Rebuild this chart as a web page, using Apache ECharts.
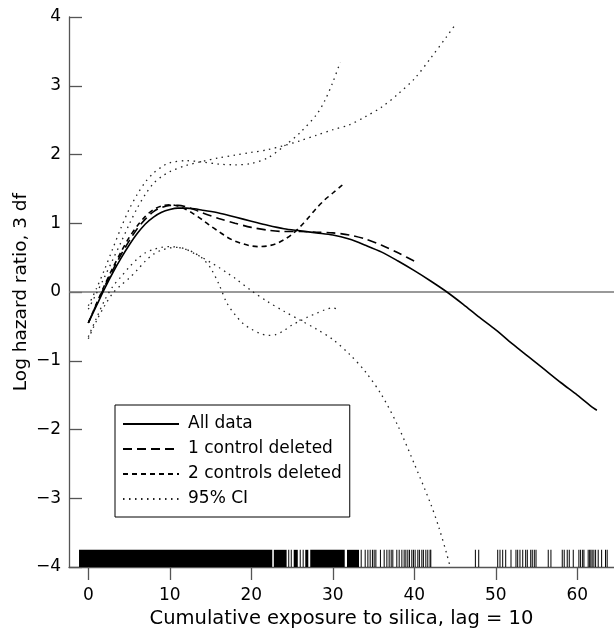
<!DOCTYPE html>
<html>
<head>
<meta charset="utf-8">
<script src="https://cdn.jsdelivr.net/npm/echarts@6/dist/echarts.min.js"></script>
<style>html,body{margin:0;padding:0;background:#fff}#c{width:614px;height:637px}</style>
</head>
<body>
<div id="c"></div>
<script>
// ---- data ----
const xTicks = [0, 10, 20, 30, 40, 50, 60];
const yTicks = [-4, -3, -2, -1, 0, 1, 2, 3, 4];

const allData = [[0,-0.45],[1,-0.2],[2,0.05],[3,0.28],[4,0.49],[5,0.68],[6,0.85],[7,0.99],[8,1.09],[9,1.16],[10,1.2],[11,1.22],[12,1.22],[13,1.21],[14,1.19],[16,1.15],[18,1.09],[20,1.03],[22,0.97],[24,0.92],[26,0.89],[28,0.86],[30,0.83],[32,0.77],[34,0.68],[36,0.58],[38,0.45],[40,0.31],[42,0.16],[44,0.0],[46,-0.18],[48,-0.37],[50,-0.55],[52,-0.75],[54,-0.94],[56,-1.13],[58,-1.32],[60,-1.5],[62,-1.69],[62.4,-1.72]];

const oneControlDeleted = [[0,-0.45],[1,-0.18],[2,0.08],[3,0.32],[4,0.54],[5,0.74],[6,0.92],[7,1.06],[8,1.17],[9,1.23],[10,1.26],[11,1.26],[12,1.24],[13,1.2],[14,1.15],[16,1.07],[18,1.0],[20,0.94],[22,0.9],[24,0.88],[26,0.88],[28,0.87],[30,0.86],[32,0.83],[34,0.77],[36,0.68],[38,0.57],[40,0.45],[40.4,0.43]];

const twoControlsDeleted = [[0,-0.45],[1,-0.17],[2,0.1],[3,0.35],[4,0.58],[5,0.79],[6,0.96],[7,1.1],[8,1.2],[9,1.25],[10,1.27],[11,1.25],[12,1.2],[13,1.13],[14,1.05],[15,0.96],[16,0.88],[17,0.8],[18,0.74],[19,0.7],[20,0.67],[21,0.66],[22,0.67],[23,0.7],[24,0.76],[25,0.84],[26,0.95],[27,1.08],[28,1.22],[29,1.34],[30,1.44],[31,1.54],[31.5,1.59]];

const ciAllUpper = [[0,-0.25],[1,-0.02],[2,0.22],[3,0.47],[4,0.72],[5,0.98],[6,1.22],[7,1.42],[8,1.58],[9,1.68],[10,1.75],[12,1.84],[14,1.9],[16,1.95],[18,1.99],[20,2.03],[22,2.07],[24,2.13],[26,2.2],[28,2.28],[30,2.36],[32,2.43],[34,2.55],[36,2.69],[38,2.88],[40,3.1],[42,3.4],[44,3.72],[45.1,3.9]];

const ciAllLower = [[0,-0.68],[1,-0.42],[2,-0.2],[3,-0.02],[4,0.1],[5,0.2],[6,0.32],[7,0.45],[8,0.55],[9,0.61],[10,0.64],[11,0.65],[12,0.62],[13,0.56],[14,0.5],[15,0.43],[16,0.36],[17,0.28],[18,0.2],[20,0.02],[22,-0.14],[24,-0.28],[26,-0.41],[28,-0.54],[30,-0.69],[32,-0.9],[34,-1.16],[36,-1.5],[38,-1.95],[40,-2.5],[42,-3.08],[43,-3.42],[44,-3.82],[44.4,-4.0]];

const ciTwoUpper = [[0,-0.2],[1,0.05],[2,0.33],[3,0.63],[4,0.93],[5,1.2],[6,1.42],[7,1.6],[8,1.73],[9,1.82],[10,1.88],[12,1.91],[14,1.89],[16,1.86],[18,1.85],[20,1.87],[22,1.95],[24,2.12],[26,2.32],[28,2.58],[29,2.78],[30,3.05],[30.9,3.34]];

const ciTwoLower = [[0,-0.65],[1,-0.38],[2,-0.12],[3,0.08],[4,0.22],[5,0.36],[6,0.48],[7,0.57],[8,0.62],[9,0.65],[10,0.66],[11,0.65],[12,0.62],[13,0.57],[14,0.49],[15,0.35],[16,0.12],[17,-0.16],[18,-0.33],[19,-0.46],[20,-0.54],[21,-0.6],[22,-0.63],[23,-0.62],[24,-0.56],[25,-0.48],[26,-0.42],[27,-0.36],[28,-0.31],[29,-0.26],[30,-0.23],[30.6,-0.25]];

// rug: dense black stretches [from, to] and single exposure values
const rugBlocks = [[-1.14,22.57],[22.76,24.33],[25.2,25.7],[26.62,26.99],[27.23,31.46],[31.74,33.21]];
const rugTicks = [24.53,24.84,25.94,26.3,33.42,33.91,34.24,34.52,34.8,35.01,35.22,35.78,36.24,36.57,36.85,37.1,37.3,37.79,38.08,38.41,38.69,38.9,39.14,39.34,39.63,39.83,40.04,40.37,40.56,40.86,41.05,41.35,41.59,41.87,41.96,47.43,47.84,50.17,50.45,50.78,51.15,51.8,52.41,52.62,52.9,53.24,53.6,53.8,54.22,54.41,54.66,54.87,56.37,56.7,58.09,58.33,58.7,58.95,59.44,60.13,60.34,60.59,60.75,61.27,61.45,61.6,61.76,61.97,62.18,62.5,62.92,63.4,63.6];

const legendNames = ['All data', '1 control deleted', '2 controls deleted', '95% CI'];

// ---- chart ----
const FONT = 'DejaVu Sans';
const chart = echarts.init(document.getElementById('c'), null, {renderer: 'canvas'});
const axisGrey = '#555';

function lineSeries(name, data, lineStyle, extra) {
  return Object.assign({
    type: 'line', name: name, data: data, symbol: 'none', showSymbol: false,
    smooth: 0.3, lineStyle: lineStyle, itemStyle: {color: lineStyle.color},
    animation: false, silent: true, z: 3
  }, extra || {});
}
const dotted = {color: '#222', width: 1.3, type: [1.5, 4.5]};

const rugData = rugBlocks.concat(rugTicks.map(v => [v, v]));

chart.setOption({
  animation: false,
  grid: {left: 69, right: 0, top: 17, bottom: 70, containLabel: false, outerBoundsMode: 'none'},
  legend: {
    orient: 'vertical', left: 115, top: 405, data: legendNames,
    itemWidth: 56, itemHeight: 14, itemGap: 5,
    padding: [9, 8, 8, 7], borderColor: '#000', borderWidth: 1, backgroundColor: '#fff',
    itemStyle: {color: 'rgba(0,0,0,0)', borderWidth: 0, opacity: 0},
    textStyle: {fontFamily: FONT, fontSize: 17, color: '#000', lineHeight: 20, padding: [0, 0, 0, 4]},
    selectedMode: false
  },
  xAxis: {
    type: 'value', min: -2.37, max: 64.5,
    axisLine: {show: true, onZero: false, lineStyle: {color: axisGrey, width: 1.3}},
    axisTick: {show: true, inside: false, length: 13, customValues: xTicks, lineStyle: {color: axisGrey, width: 1.3}},
    axisLabel: {customValues: xTicks, margin: 20, fontFamily: FONT, fontSize: 17, color: '#000'},
    splitLine: {show: false},
    name: 'Cumulative exposure to silica, lag = 10', nameLocation: 'middle', nameGap: 42,
    nameMoveOverlap: false,
    nameTextStyle: {fontFamily: FONT, fontSize: 19.5, color: '#000'}
  },
  yAxis: {
    type: 'value', min: -4, max: 4, interval: 1,
    axisLine: {show: true, onZero: false, lineStyle: {color: axisGrey, width: 1.3}},
    axisTick: {show: true, inside: true, length: 13, lineStyle: {color: axisGrey, width: 1.3}},
    axisLabel: {margin: 8, fontFamily: FONT, fontSize: 17, color: '#000',
      formatter: v => v < 0 ? '\u2212' + (-v) : String(v)},
    splitLine: {show: false},
    name: 'Log hazard ratio, 3 df', nameLocation: 'middle', nameGap: 38, nameRotate: 90,
    nameMoveOverlap: false,
    nameTextStyle: {fontFamily: FONT, fontSize: 18.5, color: '#000'}
  },
  series: [
    lineSeries('All data', allData, {color: '#000', width: 1.6, type: 'solid'}, {
      markLine: {silent: true, symbol: 'none', animation: false, label: {show: false},
        lineStyle: {color: '#777', width: 1.6, type: 'solid'}, data: [{yAxis: 0}], z: 1}
    }),
    lineSeries('1 control deleted', oneControlDeleted, {color: '#000', width: 1.6, type: [9, 5]}),
    lineSeries('2 controls deleted', twoControlsDeleted, {color: '#000', width: 1.6, type: [5, 4]}),
    lineSeries('95% CI', ciAllUpper, dotted),
    lineSeries('95% CI', ciAllLower, dotted),
    lineSeries('95% CI', ciTwoUpper, dotted),
    lineSeries('95% CI', ciTwoLower, dotted),
    {
      type: 'custom', name: 'rug', data: rugData, silent: true, animation: false, z: 2,
      encode: {x: [0, 1]},
      renderItem: function (params, api) {
        const p0 = api.coord([api.value(0), -4]);
        const p1 = api.coord([api.value(1), -3.75]);
        const w = Math.max(p1[0] - p0[0], 1);
        return {type: 'rect', shape: {x: p0[0], y: p1[1], width: w, height: p0[1] - p1[1]},
          style: {fill: '#000'}};
      }
    }
  ]
});
</script>
</body>
</html>
